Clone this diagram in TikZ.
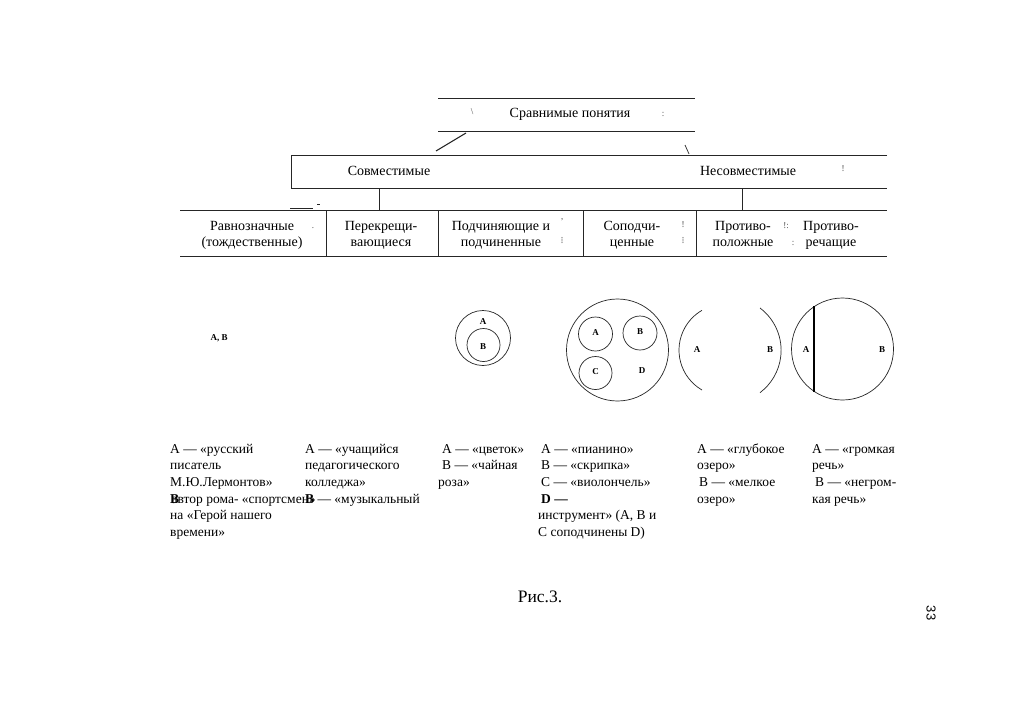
\documentclass[tikz,border=0pt]{standalone}
\usepackage{fontspec}
\setmainfont{Liberation Serif}
\newfontfamily\pagenumfont{Liberation Sans}
\newcommand\firstln{\rule{0pt}{10pt}}
\begin{document}
\begin{tikzpicture}[x=1pt,y=-1pt,
  ln/.style={draw=black!85, line width=0.7pt},
  txt/.style={inner sep=0pt, font=\fontsize{14}{16}\selectfont},
  hdr/.style={inner sep=0pt, anchor=north, align=center, font=\fontsize{14}{15.5}\selectfont},
  col/.style={inner sep=0pt, anchor=north west, align=left, font=\fontsize{13.5}{16.6}\selectfont},
  lbl/.style={inner sep=0pt, font=\bfseries\fontsize{9}{10}\selectfont},
  noise/.style={inner sep=0pt, text=black!70, font=\fontsize{9}{9}\selectfont}]
\useasboundingbox (0,0) rectangle (1024,725);
\fill[white] (0,0) rectangle (1024,725);

% ---- top box
\draw[ln] (438,98) -- (695,98);
\draw[ln] (438,131) -- (695,131);
\node[txt] (top) at (570,114) {Сравнимые понятия};
\node[noise] (n1) at (472,112) {\textbackslash};
\node[noise] (n2) at (663,114) {:};
\coordinate (topL) at (466,133);
\coordinate (compT) at (436,151);
\draw[ln, line width=1.1pt] (topL) -- (compT);
\coordinate (topR) at (685,145);
\coordinate (incT) at (689,154);
\draw[ln] (topR) -- (incT);

% ---- second row
\draw[ln] (887,155) -- (291,155) -- (291,188) -- (887,188);
\node[txt] (comp) at (389,171) {Совместимые};
\node[txt] (incomp) at (748,171) {Несовместимые};
\node[noise] (n3) at (843,169) {!};
\coordinate (compB) at (379,188);
\coordinate (compB2) at (379,210);
\draw[ln] (compB) -- (compB2);
\coordinate (incB) at (742,188);
\coordinate (incB2) at (742,210);
\draw[ln] (incB) -- (incB2);
\draw[ln] (290,208) -- (313,208);
\draw[ln] (317,204) -- (320,204);

% ---- third row
\draw[ln] (180,210) -- (887,210);
\draw[ln] (180,256) -- (887,256);
\foreach \xx in {326,438,583,696} \draw[ln] (\xx,210) -- (\xx,256);
\node[hdr] (eq) at (252,221.5) {Равнозначные\\(тождественные)};
\node[hdr] (cross) at (381,221.5) {Перекрещи-\\вающиеся};
\node[hdr] (sub) at (501,221.5) {Подчиняющие и\\подчиненные};
\node[hdr] (cosub) at (632,221.5) {Соподчи-\\ценные};
\node[hdr] (opp) at (743,221.5) {Противо-\\положные};
\node[hdr] (contr) at (831,221.5) {Противо-\\речащие};
\node[noise] (n4) at (313,228) {.};
\node[noise] (n5) at (562,222) {'};
\node[noise] (n6) at (562,241) {⁞};
\node[noise] (n7) at (683,225) {!};
\node[noise] (n8) at (683,241) {⁞};
\node[noise] (n9) at (786,226) {!:};
\node[noise] (n10) at (793,243) {:};

% ---- diagrams
\node[lbl] (ab) at (219,338) {A, B};

\draw[ln] (483,338) circle[radius=27.5];
\draw[ln] (483.5,345) circle[radius=16.5];
\node[lbl] (c1a) at (483,322) {A};
\node[lbl] (c1b) at (483,347) {B};

\draw[ln] (617.5,350) circle[radius=51];
\draw[ln] (595.5,334) circle[radius=17];
\draw[ln] (640,333) circle[radius=17];
\draw[ln] (595.5,373) circle[radius=16.5];
\node[lbl] (c2a) at (595.5,333) {A};
\node[lbl] (c2b) at (640,332) {B};
\node[lbl] (c2c) at (595.5,372) {C};
\node[lbl] (c2d) at (642,371) {D};

\draw[ln] (702,390) arc[start angle=120, end angle=240, radius=46];
\draw[ln] (760,308) arc[start angle=-53, end angle=53, radius=53];
\node[lbl] (c3a) at (697,350) {A};
\node[lbl] (c3b) at (770,350) {B};

\draw[ln] (842.5,349) circle[radius=51];
\draw[draw=black, line width=1.8pt] (814,306) -- (814,392);
\node[lbl] (c4a) at (806,350) {A};
\node[lbl] (c4b) at (882,350) {B};

% ---- examples
\node[col] (t1) at (170,443) {\firstln А — «русский\\писатель\\М.Ю.Лермонтов»\\\rlap{\textbf{В}}\hspace{1.5pt}автор рома- «спортсмен»\\на «Герой нашего\\времени»};
\node[col] (t2) at (305,443) {\firstln А — «учащийся\\педагогического\\колледжа»\\\textbf{В} — «музыкальный};
\node[col] (t3) at (438,443) {\firstln\hspace{4pt}А — «цветок»\\\hspace{4pt}В — «чайная\\роза»};
\node[col] (t4) at (538,443) {\firstln\hspace{3pt}А — «пианино»\\\hspace{3pt}В — «скрипка»\\\hspace{3pt}С — «виолончель»\\\hspace{3pt}\textbf{D —}\\инструмент» (А, В и\\С соподчинены D)};
\node[col] (t5) at (697,443) {\firstln А — «глубокое\\озеро»\\\hspace{2pt}В — «мелкое\\озеро»};
\node[col] (t6) at (812,443) {\firstln А — «громкая\\речь»\\\hspace{3pt}В — «негром-\\кая речь»};

% ---- caption and page number
\node[inner sep=0pt, font=\fontsize{17.5}{19}\selectfont] (cap) at (540,597) {Рис.3.};
\node[inner sep=0pt, rotate=-90, font=\pagenumfont\fontsize{13}{14}\selectfont] (pg) at (931,613) {33};
\end{tikzpicture}
\end{document}
